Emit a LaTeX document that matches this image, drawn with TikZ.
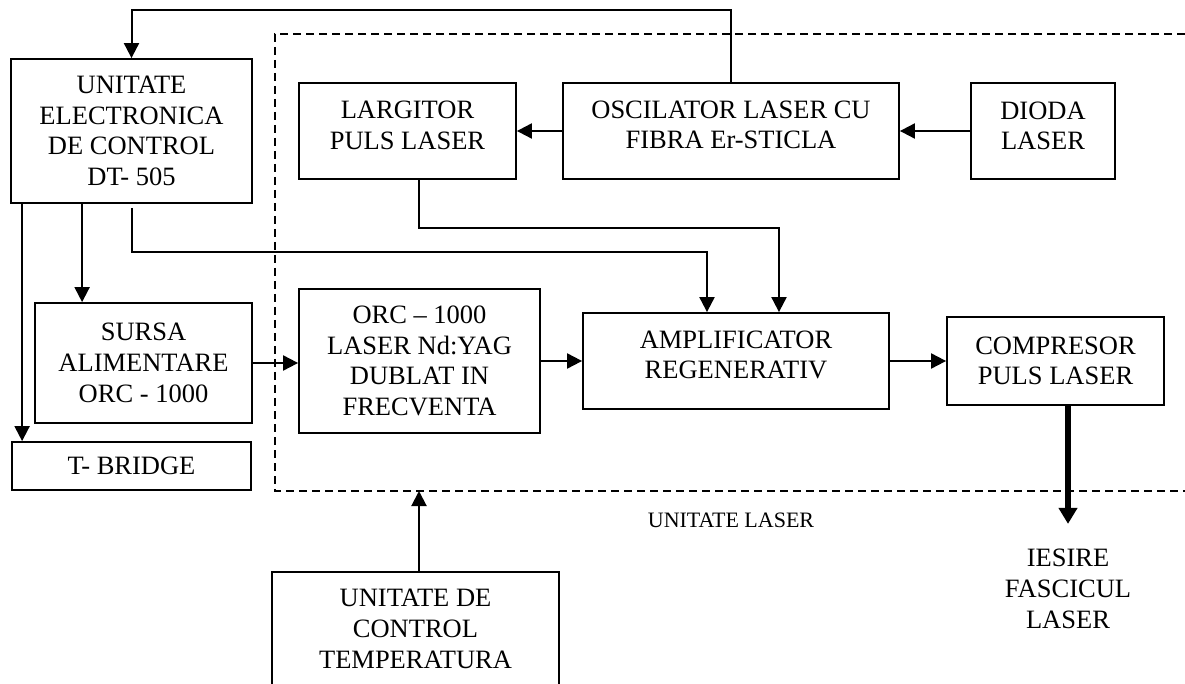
\documentclass[tikz,border=0pt]{standalone}
\usepackage{fontspec}
\setmainfont{Liberation Serif}
\usetikzlibrary{arrows.meta}

\tikzset{
  blok/.style={draw, line width=1.8pt, align=center, inner sep=0pt,
               font=\fontsize{26.5}{30.7}\selectfont},
  sageata/.style={line width=2pt, -{Triangle[length=15pt,width=15pt]}},
  fascicul/.style={line width=6pt, -{Triangle[length=16pt,width=18pt]}},
  chenar/.style={line width=1.5pt, dash pattern=on 8pt off 5pt},
  eticheta/.style={align=center, inner sep=0pt}
}

\begin{document}
\begin{tikzpicture}[x=1pt,y=-1pt]
\useasboundingbox (0,0) rectangle (1185,684);
\def\lat{1185}
  % unitatea laser (chenar punctat)
  \coordinate (cs) at (275,34);
  \coordinate (cj) at (275,491);
  \draw[chenar] (\lat,34) -- (cs) -- (cj) -- (\lat,491);
  \node[eticheta, font=\fontsize{22}{26}\selectfont] (ulaser) at (731,520) {UNITATE LASER};

  % blocuri
  \node[blok, minimum width=241pt, minimum height=144pt] (dt)       at (131.5,131) {UNITATE\\ELECTRONICA\\DE CONTROL\\DT- 505};
  \node[blok, minimum width=217pt, minimum height=96pt]  (largitor) at (407.5,131) {};
  \node[blok, minimum width=336pt, minimum height=96pt]  (osc)      at (731,131)   {};
  \node[blok, minimum width=144pt, minimum height=96pt]  (dioda)    at (1043,131)  {};
  \node[blok, minimum width=217pt, minimum height=120pt] (sursa)    at (143.5,363) {SURSA\\ALIMENTARE\\ORC - 1000};
  \node[blok, minimum width=239pt, minimum height=48pt]  (tbridge)  at (131.5,466) {T- BRIDGE};
  \node[blok, minimum width=241pt, minimum height=144pt] (orc)      at (419.5,361) {ORC -- 1000\\LASER Nd:YAG\\DUBLAT IN\\FRECVENTA};
  \node[blok, minimum width=306pt, minimum height=96pt]  (amp)      at (736,361)   {};
  \node[blok, minimum width=217pt, minimum height=88pt]  (comp)     at (1055.5,361) {COMPRESOR\\PULS LASER};
  \node[blok, minimum width=287pt, minimum height=114pt] (temp)     at (415.5,629) {UNITATE DE\\CONTROL\\TEMPERATURA};

  % texte ridicate in blocuri
  \node[blok, draw=none] (tlargitor) at ([yshift=5.5pt]largitor.center) {LARGITOR\\PULS LASER};
  \node[blok, draw=none] (tosc) at ([yshift=6pt]osc.center) {OSCILATOR LASER CU\\FIBRA Er-STICLA};
  \node[blok, draw=none] (tdioda) at ([yshift=5pt]dioda.center) {DIODA\\LASER};
  \node[blok, draw=none] (tamp) at ([yshift=6pt]amp.center) {AMPLIFICATOR\\REGENERATIV};

  % legaturi
  \draw[sageata] (osc.north) -- ++(0,-72) -| (dt.north);
  \draw[sageata] (osc.west) -- (largitor.east);
  \draw[sageata] (dioda.west) -- (osc.east);
  \draw[sageata] ([xshift=11.5pt]largitor.south) -- ++(0,48) -| ([xshift=43pt]amp.north);
  \draw[sageata] (dt.south) ++(0,4) -- ++(0,44) -| ([xshift=-29pt]amp.north);
  \coordinate (d1) at ([xshift=12pt]dt.south west);
  \coordinate (d2) at ([xshift=72pt]dt.south west);
  \draw[sageata] (d1) -- (d1 |- tbridge.north);
  \draw[sageata] (d2) -- (d2 |- sursa.north);
  \draw[sageata] (sursa.east) -- (sursa.east -| orc.west);
  \draw[sageata] (orc.east) -- (amp.west);
  \draw[sageata] (amp.east) -- (comp.west);
  \coordinate (t1) at ([xshift=3.5pt]temp.north);
  \draw[sageata] (t1) -- (t1 |- cj);

  % iesire
  \coordinate (c1) at ([xshift=12.5pt]comp.south);
  \coordinate (iesire) at ([yshift=-118pt]c1);
  \draw[fascicul] (c1) -- (iesire);
  \node[eticheta, font=\fontsize{26.5}{31}\selectfont] (fasc) at (1068,589) {IESIRE\\FASCICUL\\LASER};
\end{tikzpicture}
\end{document}
